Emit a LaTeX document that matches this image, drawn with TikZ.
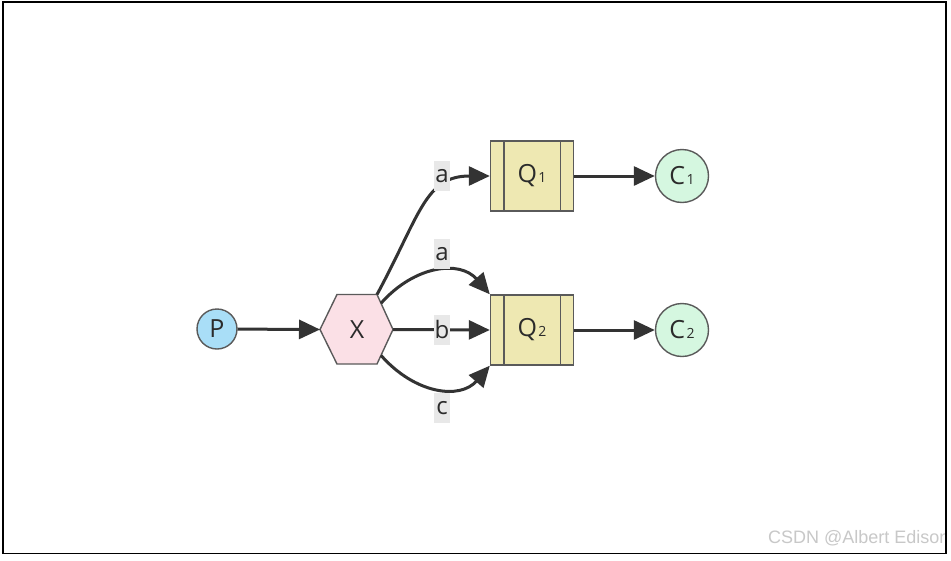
\documentclass[tikz,border=0pt]{standalone}
\usepackage{fontspec}
\setmainfont{Open Sans}
\newfontfamily\wmfont{Liberation Sans}
\usetikzlibrary{arrows.meta,calc}
\definecolor{txt}{HTML}{2B2B2B}
\definecolor{strokec}{HTML}{5A5A5A}
\definecolor{linec}{HTML}{333333}
\definecolor{pfill}{HTML}{A9DEF7}
\definecolor{xfill}{HTML}{FBE0E6}
\definecolor{qfill}{HTML}{EEE8B2}
\definecolor{cfill}{HTML}{D5F7E0}
\definecolor{labbg}{HTML}{E8E8E8}
\definecolor{wm}{HTML}{C8C8C8}
\newcommand{\subdig}[1]{\hspace{1.5pt}{\fontsize{14}{14}\selectfont #1}}
\begin{document}
\begin{tikzpicture}[x=1pt,y=-1pt,
  every node/.style={font=\fontsize{25}{30}\selectfont, text=txt},
  nodeline/.style={draw=strokec, line width=1.4pt},
  conn/.style={draw=linec, line width=3pt, -{Triangle[length=21pt,width=19pt]}},
  edgelab/.style={fill=labbg, inner sep=0pt, minimum width=16pt, minimum height=30pt, font=\fontsize{24}{28}\selectfont},
  queue/.style={rectangle, nodeline, fill=qfill, minimum width=83pt, minimum height=70pt, inner sep=0pt},
  cons/.style={circle, nodeline, fill=cfill, minimum size=53pt, inner sep=0pt}
]
\useasboundingbox (0,0) rectangle (951,560);
\fill[white] (0,0) rectangle (951,560);

% hexagon X
\coordinate (xl) at (320,329.5);
\coordinate (xtl) at (337,294.5);
\coordinate (xtr) at (377,294.5);
\coordinate (xr) at (393,329.5);
\coordinate (xbr) at (377,364);
\coordinate (xbl) at (337,364);
\path[nodeline, fill=xfill] (xl) -- (xtl) -- (xtr) -- (xr) -- (xbr) -- (xbl) -- cycle;
\node[minimum width=73pt, minimum height=69pt, inner sep=0pt] (X) at (357,329.5) {X};
\coordinate (a2s) at ($(xtr)!0.25!(xr)$);
\coordinate (cs) at ($(xbr)!0.25!(xr)$);

% nodes
\node[circle, nodeline, fill=pfill, minimum size=40pt, inner sep=0pt] (P) at (217,329) {P};
\node[queue] (Q1) at (532,176) {Q\subdig{1}};
\node[queue] (Q2) at (532,330) {Q\subdig{2}};
\draw[nodeline] ([xshift=14pt]Q1.north west) -- ([xshift=14pt]Q1.south west);
\draw[nodeline] ([xshift=-14pt]Q1.north east) -- ([xshift=-14pt]Q1.south east);
\draw[nodeline] ([xshift=14pt]Q2.north west) -- ([xshift=14pt]Q2.south west);
\draw[nodeline] ([xshift=-14pt]Q2.north east) -- ([xshift=-14pt]Q2.south east);
\node[cons] (C1) at (682,176) {C\subdig{1}};
\node[cons] (C2) at (682,330) {C\subdig{2}};

% connectors
\draw[conn] (P) -- (xl);
\draw[conn] (xtr) .. controls (420,215) and (425,176) .. (Q1.west);
\draw[conn] (a2s) .. controls (415,265) and (460,260) .. (Q2.north west);
\draw[conn] (xr) -- (Q2.west);
\draw[conn] (cs) .. controls (415,394) and (460,400) .. (Q2.south west);
\draw[conn] (Q1) -- (C1);
\draw[conn] (Q2) -- (C2);

% edge labels
\node[edgelab] (la1) at (442,176) {a};
\node[edgelab] (la2) at (442,254) {a};
\node[edgelab] (lb) at (442,329.5) {b};
\node[edgelab] (lc) at (442,408) {c};

% watermark
\begin{scope}
\clip (0,0) rectangle (946,560);
\node[anchor=base west, inner sep=0pt, text=wm, font=\wmfont\fontsize{18}{20}\selectfont] (wmk) at (768,543) {CSDN @Albert Edison};
\end{scope}

% frame
\draw[line width=1.2pt, black] (3,2) rectangle (946,553.5);
\end{tikzpicture}
\end{document}
